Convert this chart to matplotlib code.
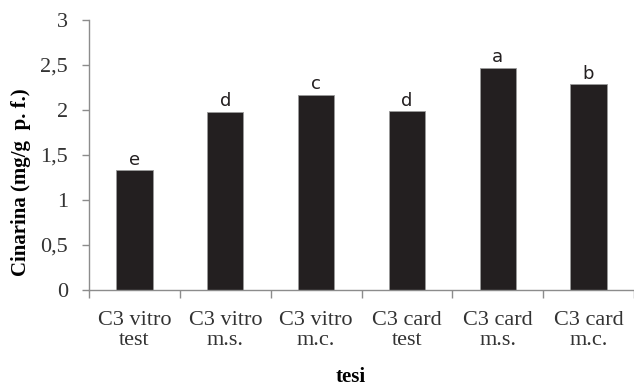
import matplotlib
matplotlib.use('Agg')
import matplotlib.pyplot as plt
from matplotlib.ticker import FuncFormatter

categories = ["C3 vitro\ntest", "C3 vitro\nm.s.", "C3 vitro\nm.c.",
              "C3 card\ntest", "C3 card\nm.s.", "C3 card\nm.c."]
values = [1.33, 1.98, 2.17, 1.99, 2.47, 2.29]
letters = ["e", "d", "c", "d", "a", "b"]
y_ticks = [0, 0.5, 1, 1.5, 2, 2.5, 3]

serif = "Liberation Serif"
axis_grey = "#8c8c8c"

fig = plt.figure(figsize=(6.34, 3.86), dpi=100)
ax = fig.add_axes([0.1404, 0.2487, 0.8596, 0.6995])

x = list(range(len(categories)))
bars = ax.bar(x, values, width=0.4, color="#231f20", edgecolor="#9a9a9a", linewidth=0.6)

for rect, lab in zip(bars, letters):
    ax.annotate(lab, (rect.get_x() + rect.get_width() / 2, rect.get_height()),
                xytext=(0, 1), textcoords="offset points", ha="center", va="bottom",
                fontsize=13, family="DejaVu Sans", color="#231f20")

ax.set_xlim(-0.5, len(categories) - 0.5)
ax.set_ylim(0, 3)
ax.set_yticks(y_ticks)
ax.yaxis.set_major_formatter(FuncFormatter(lambda v, p: f"{v:g}".replace(".", ",")))

# category labels centred, ticks between categories
ax.set_xticks(x)
ax.set_xticklabels(categories, fontsize=16, family=serif, color="#333333", linespacing=1.1)
ax.tick_params(axis="x", length=0, pad=15)
ax.set_xticks([i - 0.5 for i in range(len(categories) + 1)], minor=True)
ax.tick_params(axis="x", which="minor", length=6, color=axis_grey, width=1)
ax.tick_params(axis="y", length=5, color=axis_grey, width=1, labelsize=16,
               labelcolor="#333333", pad=10)
for t in ax.get_yticklabels():
    t.set_family(serif)

for side in ("top", "right"):
    ax.spines[side].set_visible(False)
for side in ("left", "bottom"):
    ax.spines[side].set_color(axis_grey)
    ax.spines[side].set_linewidth(1)

fig.text(21 / 634, 1 - 182 / 386, "Cinarina (mg/g  p. f.)", rotation=90,
         fontsize=15, fontweight="bold", family=serif, ha="center", va="center")
fig.text(351 / 634, 1 - 377 / 386, "tesi", fontsize=15, fontweight="bold",
         family=serif, ha="center", va="center")

fig.savefig("out.png", dpi=100)
